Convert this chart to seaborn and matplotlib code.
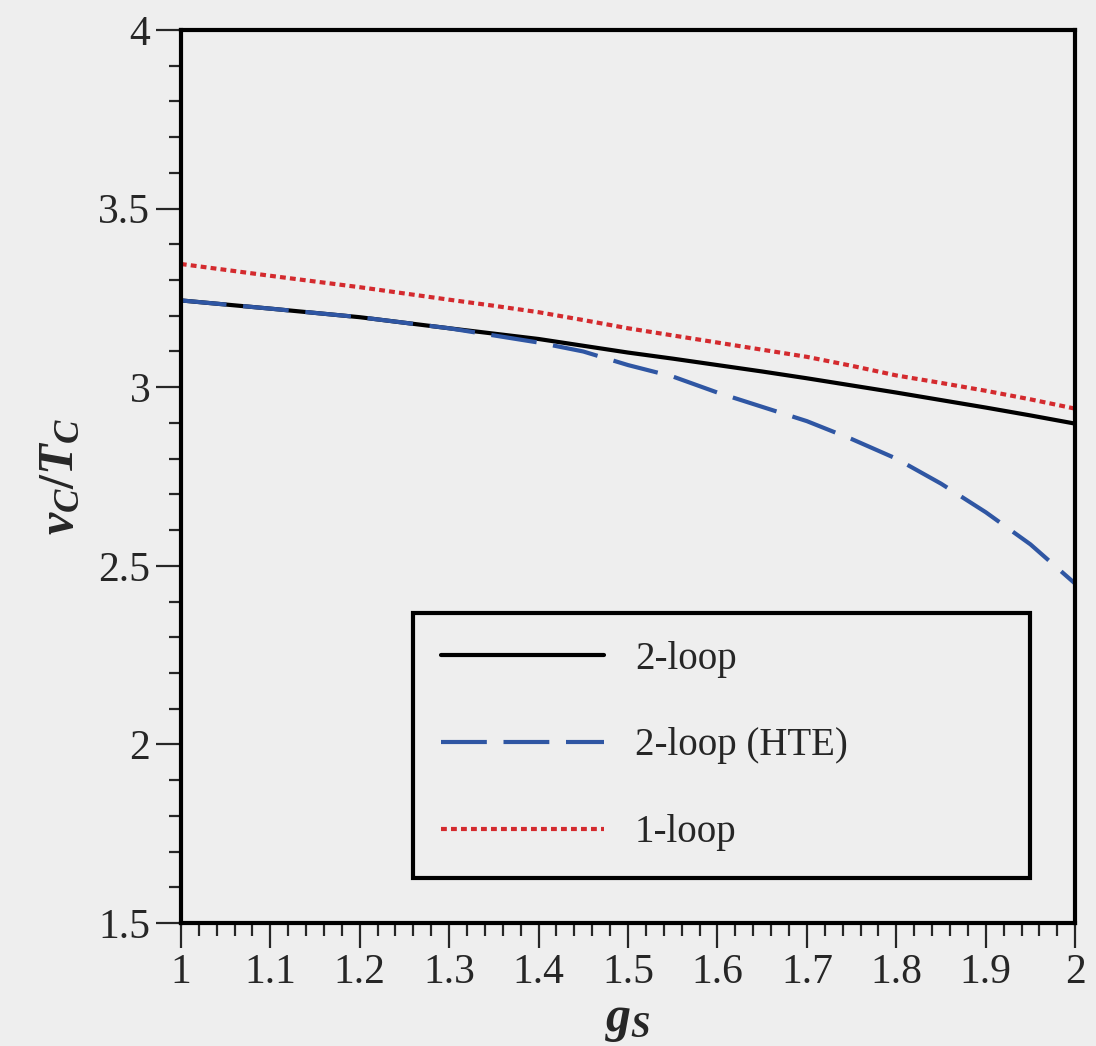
import numpy as np
import matplotlib
matplotlib.use('Agg')
import matplotlib.pyplot as plt
from matplotlib.ticker import MultipleLocator, FuncFormatter
import pandas as pd
import seaborn as sns

# values
gs = [1.0, 1.1, 1.2, 1.3, 1.35, 1.4, 1.45, 1.5, 1.55, 1.6, 1.65, 1.7, 1.75, 1.8, 1.85, 1.9, 1.95, 2.0]
two_loop = [3.243, 3.220, 3.196, 3.165, 3.150, 3.135, 3.116, 3.097, 3.080, 3.062, 3.044, 3.025,
            3.005, 2.985, 2.964, 2.943, 2.921, 2.898]
two_loop_hte = [3.243, 3.220, 3.196, 3.165, 3.145, 3.125, 3.100, 3.062, 3.030, 2.985, 2.945, 2.905,
                2.855, 2.800, 2.730, 2.650, 2.560, 2.450]
one_loop = [3.345, 3.312, 3.280, 3.245, 3.228, 3.210, 3.188, 3.165, 3.145, 3.125, 3.105, 3.085,
            3.060, 3.033, 3.012, 2.990, 2.966, 2.940]
labels = ['2-loop', '2-loop (HTE)', '1-loop']

bg = '#eeeeee'
sns.set_style('ticks')
plt.rcParams['font.family'] = ['Liberation Serif', 'DejaVu Serif']
plt.rcParams['mathtext.fontset'] = 'custom'
plt.rcParams['mathtext.it'] = 'Liberation Serif:italic:bold'
plt.rcParams['mathtext.rm'] = 'Liberation Serif:bold'

fig = plt.figure(figsize=(10.96, 10.46), dpi=100, facecolor=bg)
ax = fig.add_axes([0.165, 0.1176, 0.816, 0.8537])
ax.set_facecolor(bg)

sns.lineplot(x=gs, y=two_loop, ax=ax, color='black', lw=3, label=labels[0])
sns.lineplot(x=gs, y=two_loop_hte, ax=ax, color='#2f56a3', lw=3, label=labels[1],
             linestyle=(0, (11, 4)))
sns.lineplot(x=gs, y=one_loop, ax=ax, color='#d42a2e', lw=3, label=labels[2],
             linestyle=(0, (1.4, 1)))

ax.set_xlim(1, 2)
ax.set_ylim(1.5, 4)
ax.xaxis.set_major_locator(MultipleLocator(0.1))
ax.xaxis.set_minor_locator(MultipleLocator(0.02))
ax.yaxis.set_major_locator(MultipleLocator(0.5))
ax.yaxis.set_minor_locator(MultipleLocator(0.1))
fmt = FuncFormatter(lambda v, p: '%g' % round(v, 2))
ax.xaxis.set_major_formatter(fmt)
ax.yaxis.set_major_formatter(fmt)
ax.tick_params(which='major', direction='out', length=18, width=1.6, labelsize=30, pad=4)
ax.tick_params(which='minor', direction='out', length=9, width=1.6)
ax.tick_params(top=False, right=False, which='both')
for s in ax.spines.values():
    s.set_linewidth(3)
    s.set_color('black')

ax.set_xlabel(r'$g_S$', fontsize=36, labelpad=4)
ax.set_ylabel(r'$v_C/T_C$', fontsize=36, labelpad=10)

leg = ax.legend(loc='lower left', bbox_to_anchor=(0.26, 0.05, 0.69, 0.296), mode='expand',
                borderaxespad=0, fontsize=28, handlelength=4.2, handletextpad=0.8,
                labelspacing=1.28, borderpad=0.7, fancybox=False, framealpha=1,
                facecolor=bg, edgecolor='black')
leg.get_frame().set_linewidth(3)

fig.savefig('out.png', dpi=100, facecolor=bg)
